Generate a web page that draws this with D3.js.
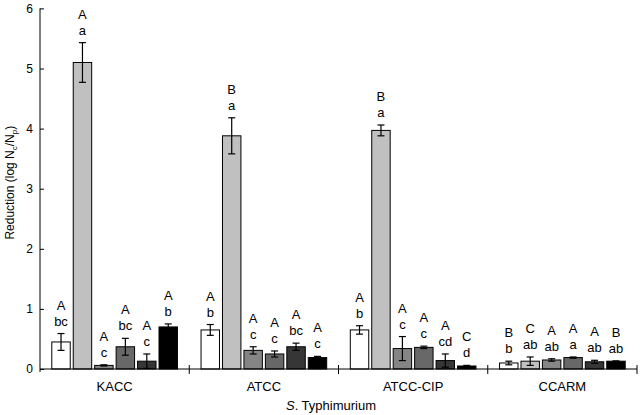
<!DOCTYPE html>
<html><head><meta charset="utf-8">
<script src="https://cdn.jsdelivr.net/npm/d3@7"></script>
<style>body{margin:0;background:#fff}svg{display:block}text{font-family:"Liberation Sans",Arial,sans-serif;fill:#000}</style>
</head><body><svg id="c" width="640" height="415"></svg>
<script>
const groups = ["KACC", "ATCC", "ATCC-CIP", "CCARM"];
const series = ["T1", "T2", "T3", "T4", "T5", "T6"];
const seriesColors = ["#ffffff", "#c0c0c0", "#858585", "#686868", "#363636", "#000000"];
const means = [
  [0.45, 5.10, 0.06, 0.37, 0.13, 0.70],
  [0.65, 3.88, 0.31, 0.25, 0.37, 0.19],
  [0.65, 3.97, 0.34, 0.36, 0.14, 0.05],
  [0.10, 0.13, 0.15, 0.19, 0.12, 0.13]
];
const errors = [
  [0.14, 0.33, 0.01, 0.14, 0.12, 0.05],
  [0.09, 0.30, 0.06, 0.05, 0.06, 0.02],
  [0.07, 0.09, 0.20, 0.02, 0.11, 0.01],
  [0.03, 0.07, 0.02, 0.01, 0.025, 0.005]
];
const upperLetters = [
  ["A", "A", "A", "A", "A", "A"],
  ["A", "B", "A", "A", "A", "A"],
  ["A", "B", "A", "A", "A", "C"],
  ["B", "C", "A", "A", "A", "B"]
];
const lowerLetters = [
  ["bc", "a", "c", "bc", "c", "b"],
  ["b", "a", "c", "c", "bc", "c"],
  ["b", "a", "c", "c", "cd", "d"],
  ["b", "ab", "ab", "a", "ab", "ab"]
];
const yTicks = [0, 1, 2, 3, 4, 5, 6];

const svg = d3.select("#c");
const x0 = d3.scaleBand().domain(groups).range([40, 637]).padding(0);
const x1 = d3.scaleBand().domain(series).range([0, x0.bandwidth()]).paddingInner(0.14).paddingOuter(0.55);
const y = d3.scaleLinear().domain([0, 6]).range([369, 8.4]);

// bars
groups.forEach((g, gi) => {
  const gg = svg.append("g").attr("transform", `translate(${x0(g)},0)`);
  series.forEach((s, si) => {
    const m = means[gi][si], e = errors[gi][si];
    const bx = x1(s), bw = x1.bandwidth(), cx = bx + bw / 2;
    gg.append("rect").attr("x", bx).attr("y", y(m)).attr("width", bw).attr("height", y(0) - y(m))
      .attr("fill", seriesColors[si]).attr("stroke", "#000").attr("stroke-width", 1);
    const t = y(m + e), b = y(Math.max(0, m - e));
    gg.append("line").attr("x1", cx).attr("x2", cx).attr("y1", t).attr("y2", b).attr("stroke", "#000").attr("stroke-width", 1.2);
    [t, b].forEach(yy => gg.append("line").attr("x1", cx - 3.5).attr("x2", cx + 3.5).attr("y1", yy).attr("y2", yy).attr("stroke", "#000").attr("stroke-width", 1.2));
    const lb = t - 8;
    gg.append("text").attr("x", cx).attr("y", lb).attr("text-anchor", "middle").attr("font-size", 13).text(lowerLetters[gi][si]);
    gg.append("text").attr("x", cx).attr("y", lb - 16).attr("text-anchor", "middle").attr("font-size", 13).text(upperLetters[gi][si]);
  });
  svg.append("text").attr("x", x0(g) + x0.bandwidth() / 2).attr("y", 391).attr("text-anchor", "middle").attr("font-size", 13).text(g);
});

// y axis
const ya = svg.append("g").attr("transform", "translate(40,0)")
  .call(d3.axisLeft(y).tickValues(yTicks).tickSizeInner(-4).tickSizeOuter(0).tickPadding(7).tickFormat(d3.format("d")));
ya.select(".domain").attr("stroke", "#000").attr("d", `M0,${y(6)}V${y(0) + 3}`);
ya.selectAll(".tick line").attr("stroke", "#000");
ya.selectAll(".tick text").attr("font-size", 12).attr("font-family", '"Liberation Sans",Arial,sans-serif').attr("fill", "#000");

// x axis
svg.append("line").attr("x1", 40).attr("x2", 637).attr("y1", y(0)).attr("y2", y(0)).attr("stroke", "#000");
groups.forEach((g, gi) => {
  if (gi === 0) return;
  svg.append("line").attr("x1", x0(g)).attr("x2", x0(g)).attr("y1", y(0) - 4).attr("y2", y(0) + 5).attr("stroke", "#000");
});
svg.append("line").attr("x1", 637).attr("x2", 637).attr("y1", y(0) - 4).attr("y2", y(0) + 5).attr("stroke", "#000");

// axis titles
const yt = svg.append("text").attr("transform", `translate(14,${(y(0) + y(6)) / 2 - 6}) rotate(-90)`).attr("text-anchor", "middle").attr("font-size", 12);
yt.append("tspan").text("Reduction (log N");
yt.append("tspan").attr("font-size", 8).attr("dy", 3).text("c");
yt.append("tspan").attr("dy", -3).text("/N");
yt.append("tspan").attr("font-size", 8).attr("dy", 3).text("p");
yt.append("tspan").attr("dy", -3).text(")");

const xt = svg.append("text").attr("x", 331).attr("y", 410).attr("text-anchor", "middle").attr("font-size", 13);
xt.append("tspan").attr("font-style", "italic").text("S");
xt.append("tspan").text(". Typhimurium");
</script></body></html>
